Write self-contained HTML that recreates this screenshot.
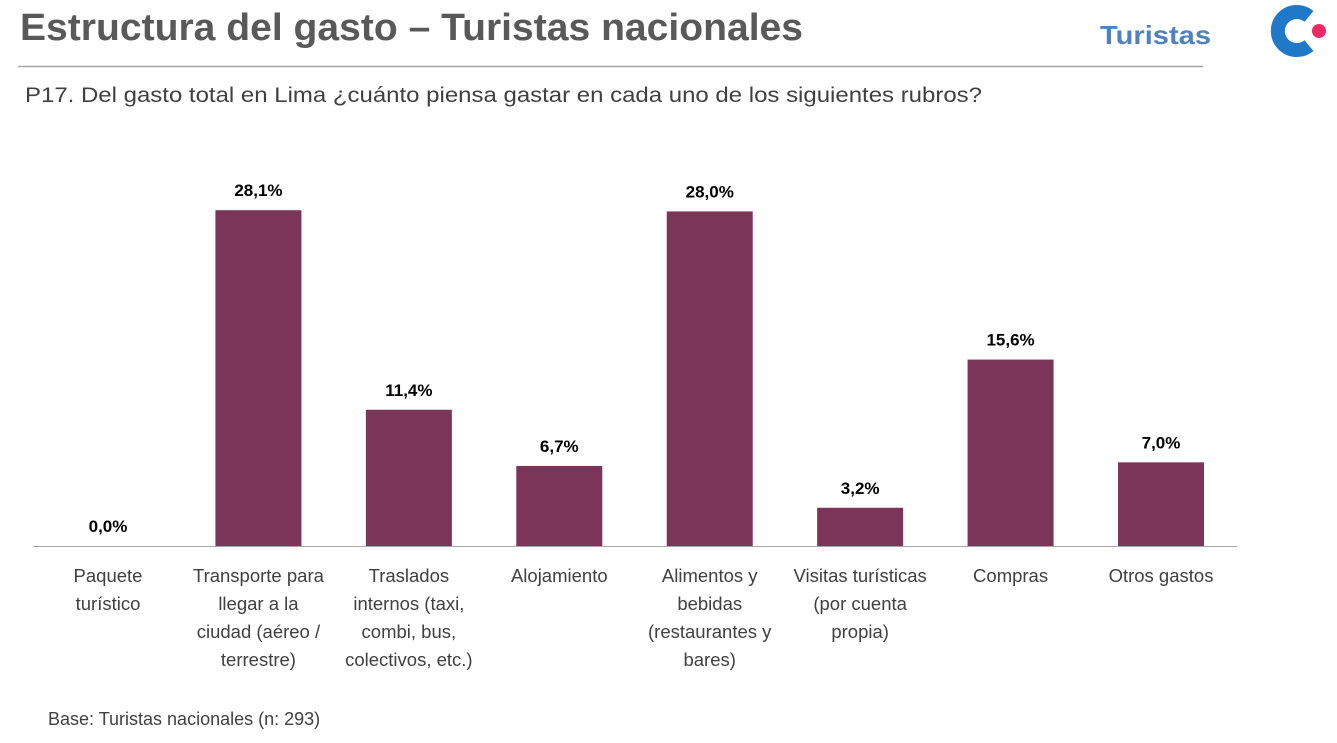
<!DOCTYPE html>
<html><head><meta charset="utf-8"><style>body{margin:0;background:#fff}svg{display:block}text{font-family:"Liberation Sans",sans-serif}</style></head>
<body>
<svg id="c" width="1337" height="743">
<text x="20" y="40" font-size="38" font-weight="bold" fill="#595959" textLength="783" lengthAdjust="spacingAndGlyphs">Estructura del gasto – Turistas nacionales</text>
<text x="1100" y="44" font-size="26" font-weight="bold" fill="#4f81bd" textLength="111" lengthAdjust="spacingAndGlyphs">Turistas</text>
<g>
<path d="M1309,16.4 A19,19 0 1 0 1309,45.6" fill="none" stroke="#1f78c8" stroke-width="14"/>
<circle cx="1319" cy="31" r="7" fill="#ec2a6a"/>
</g>
<line x1="18" y1="66.5" x2="1203" y2="66.5" stroke="#a6a6a6" stroke-width="1.5"/>
<text x="25" y="102" font-size="21" fill="#404040" textLength="957" lengthAdjust="spacingAndGlyphs">P17. Del gasto total en Lima ¿cuánto piensa gastar en cada uno de los siguientes rubros?</text>
<g id="bars"></g>
<line x1="33" y1="546.5" x2="1237" y2="546.5" stroke="#a6a6a6" stroke-width="1"/>
<g id="labels"></g>
<text x="48" y="725" font-size="18" fill="#404040">Base: Turistas nacionales (n: 293)</text>
</svg>
<script>
const categories=[["Paquete","turístico"],["Transporte para","llegar a la","ciudad (aéreo /","terrestre)"],["Traslados","internos (taxi,","combi, bus,","colectivos, etc.)"],["Alojamiento"],["Alimentos y","bebidas","(restaurantes y","bares)"],["Visitas turísticas","(por cuenta","propia)"],["Compras"],["Otros gastos"]];
const values=[0.0,28.1,11.4,6.7,28.0,3.2,15.6,7.0];
const valueLabels=["0,0%","28,1%","11,4%","6,7%","28,0%","3,2%","15,6%","7,0%"];
const NS="http://www.w3.org/2000/svg";
const x0=108,step=150.43,bw=86,base=546,scale=11.95;
const xs=i=>x0+i*step, ys=v=>base-v*scale;
const gb=document.getElementById('bars'),gl=document.getElementById('labels');
values.forEach((v,i)=>{
 const r=document.createElementNS(NS,'rect');
 r.setAttribute('x',xs(i)-bw/2);r.setAttribute('y',ys(v));r.setAttribute('width',bw);r.setAttribute('height',v*scale);r.setAttribute('fill','#7b3558');
 
 
 gb.appendChild(r);
 const t=document.createElementNS(NS,'text');
 t.setAttribute('x',xs(i));t.setAttribute('y',ys(v)-14);t.setAttribute('text-anchor','middle');t.setAttribute('font-size','17');t.setAttribute('font-weight','bold');t.setAttribute('fill','#000');
 t.textContent=valueLabels[i];
 
 
 gb.appendChild(t);
 const c=document.createElementNS(NS,'text');
 c.setAttribute('text-anchor','middle');c.setAttribute('font-size','18.5');c.setAttribute('fill','#404040');
 
 
 categories[i].forEach((line,j)=>{const s=document.createElementNS(NS,'tspan');s.setAttribute('x',xs(i));s.setAttribute('y',582+j*28);s.textContent=line;c.appendChild(s);});
 gl.appendChild(c);
});
</script>
</body></html>
